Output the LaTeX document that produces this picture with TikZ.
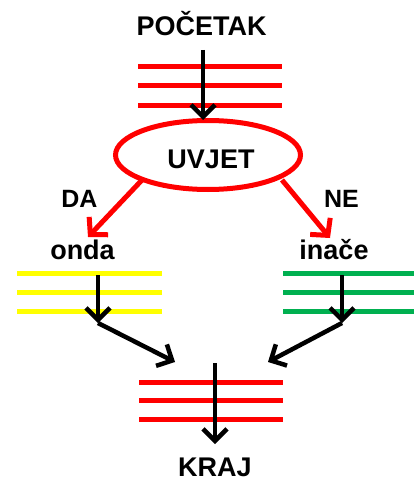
\documentclass[tikz,border=0pt]{standalone}
\usepackage{fontspec}
\setmainfont{Liberation Sans}
\usetikzlibrary{arrows.meta,shapes.geometric}
\definecolor{myred}{RGB}{255,0,0}
\definecolor{myyellow}{RGB}{255,255,0}
\definecolor{mygreen}{RGB}{0,176,80}
\begin{document}
\begin{tikzpicture}[x=1pt,y=-1pt,
  big/.style={font=\fontsize{27}{31}\selectfont\bfseries, inner sep=0pt, anchor=base},
  small/.style={font=\fontsize{25}{29}\selectfont\bfseries, inner sep=0pt, anchor=base},
  bar/.style={line width=5pt},
  blk/.style={line width=4.5pt, black, -{Straight Barb[length=12pt,width=24pt]}},
  redarr/.style={line width=5pt, myred, -{Straight Barb[length=12pt,width=26pt]}}]
\useasboundingbox (0,0) rectangle (414,481);
% texts
\node[big] (start) at (201.5,36) {POČETAK};
\node[big] (onda) at (82.5,259) {onda};
\node[big] (inace) at (334,259) {inače};
\node[small] (da) at (79.5,207) {DA};
\node[small] (ne) at (341.5,207) {NE};
\node[big] (kraj) at (215,476) {KRAJ};
% condition
\node[draw=myred, line width=5pt, ellipse, minimum width=185pt, minimum height=69pt, inner sep=0pt] (cond) at (208,155) {};
\node[big] (uvjet) at (211,168) {UVJET};
% bars
\foreach \y in {67,86,106} \draw[bar, myred] (138,\y) -- (282,\y);
\foreach \y in {273,292,311} \draw[bar, myyellow] (17,\y) -- (162,\y);
\foreach \y in {273,292,311} \draw[bar, mygreen] (283,\y) -- (414,\y);
\foreach \y in {382,400,419} \draw[bar, myred] (139,\y) -- (283,\y);
% coordinates
\coordinate (a1) at (203,50);
\coordinate (a2) at (203,120);
\coordinate (l1) at (142,180);
\coordinate (l2) at (88,237);
\coordinate (r1) at (282,180);
\coordinate (r2) at (330,238);
\coordinate (y1) at (98,275);
\coordinate (y2) at (98,323);
\coordinate (g1) at (342,275);
\coordinate (g2) at (342,323);
\coordinate (m1) at (175,362);
\coordinate (m2) at (268,362);
\coordinate (k1) at (215,363);
\coordinate (k2) at (215,444);
% arrows
\draw[blk] (a1) -- (a2);
\draw[redarr] (l1) -- (l2);
\draw[redarr] (r1) -- (r2);
\draw[blk] (y1) -- (y2);
\draw[blk] (g1) -- (g2);
\draw[blk] (y2) -- (m1);
\draw[blk] (g2) -- (m2);
\draw[blk] (k1) -- (k2);
\end{tikzpicture}
\end{document}
